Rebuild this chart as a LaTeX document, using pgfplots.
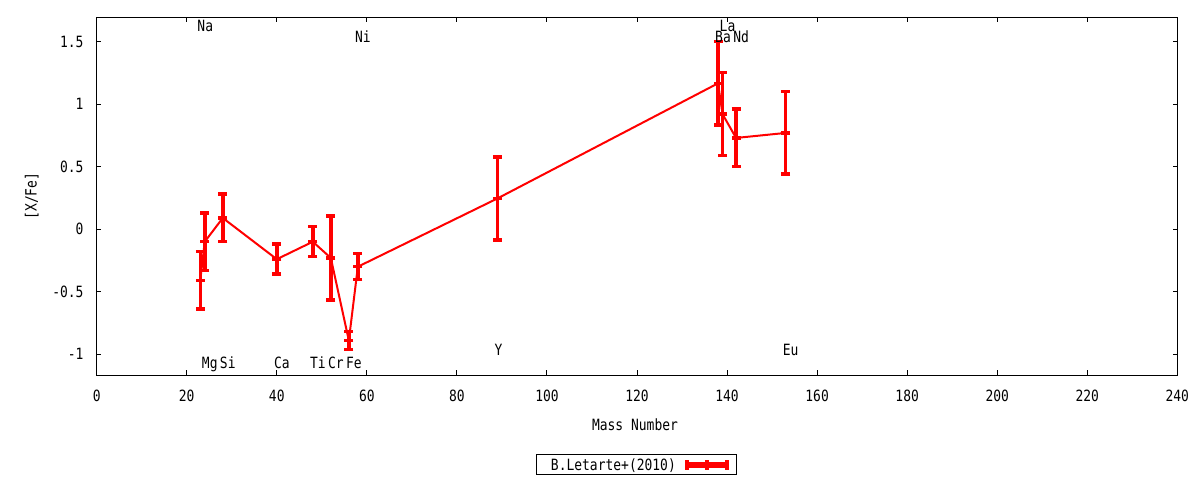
\documentclass[border=0pt]{standalone}
\usepackage{fontspec}
\setmainfont{DejaVu Sans Mono}[FakeStretch=0.836]
\usepackage{pgfplots}
\pgfplotsset{compat=1.18}
\usepackage{pgfplotstable}
\pgfplotstableread{
m y e
23 -0.41 0.23
24 -0.10 0.23
28 0.09 0.19
40 -0.24 0.12
48 -0.10 0.12
52 -0.23 0.335
56 -0.89 0.073
58 -0.30 0.104
89 0.246 0.332
138 1.167 0.333
139 0.92 0.332
142 0.73 0.23
153 0.77 0.33
}\datatable
\begin{document}
\fontsize{15.5bp}{18bp}\selectfont
\begin{tikzpicture}
\path[use as bounding box] (0,0) rectangle (1200bp,480bp);
\begin{axis}[
  at={(96.7bp,105bp)}, anchor=south west,
  scale only axis, width=1080.6bp, height=357.7bp,
  xmin=0, xmax=240, ymin=-1.166, ymax=1.695,
  clip=false,
  axis line style={line width=1bp, black},
  every tick/.style={line width=1bp, black},
  major tick length=4.5bp,
  xtick={0,20,40,60,80,100,120,140,160,180,200,220,240},
  xticklabels={0,20,40,60,80,100,120,140,160,180,200,220,240},
  ytick={-1,-0.5,0,0.5,1,1.5},
  yticklabels={-1,-0.5,0,0.5,1,1.5},
  xticklabel style={anchor=north, inner sep=0pt, yshift=-15bp},
  yticklabel style={anchor=east, inner sep=0pt, xshift=-13bp},
  xlabel={Mass Number},
  ylabel={[X/Fe]},
  xlabel style={at={(axis description cs:0.5,0)}, anchor=base, inner sep=0pt, yshift=-55bp, xshift=-2bp},
  ylabel style={at={(axis description cs:0,0.5)}, anchor=center, inner sep=0pt, rotate=0, yshift=65bp},
  legend plot pos=right,
  legend style={at={(0.4994,-0.2516)}, anchor=center, draw=black, line width=1bp,
    fill=white, inner sep=0pt, column sep=0pt,
    nodes={inner sep=0pt, text height=15bp, text depth=5bp}},
]
\addplot[red, line width=2bp, mark=-, mark size=4.5bp, mark options={line width=3.5bp, solid},
  legend image code/.code={
    \path[draw=none] (0bp,0bp) -- (60.6bp,0bp);
    \draw[red, line width=5bp] (11.3bp,0bp) -- (51.3bp,0bp);
    \draw[red, line width=4bp] (11.3bp,-4.5bp) -- (11.3bp,4.5bp)
       (31.3bp,-4.5bp) -- (31.3bp,4.5bp) (51.3bp,-4.5bp) -- (51.3bp,4.5bp);
  },
  error bars/.cd, y dir=both, y explicit,
  error bar style={line width=3.5bp, red},
  error mark options={rotate=90, line width=3.5bp, mark size=4.5bp, red}]
  table[x=m, y=y, y error=e] {\datatable};
\addlegendentry{\hspace*{14.7bp}B.Letarte+(2010)}
\node[anchor=base west, inner sep=0pt, xshift=-3bp] at (axis cs:23,1.58) {Na};
\node[anchor=base west, inner sep=0pt, xshift=-3bp] at (axis cs:139,1.58) {La};
\node[anchor=base west, inner sep=0pt, xshift=-3bp] at (axis cs:58,1.495) {Ni};
\node[anchor=base west, inner sep=0pt, xshift=-3bp] at (axis cs:138,1.495) {Ba};
\node[anchor=base west, inner sep=0pt, xshift=-3bp] at (axis cs:142,1.495) {Nd};
\node[anchor=base west, inner sep=0pt, xshift=-3bp] at (axis cs:89,-1.014) {Y};
\node[anchor=base west, inner sep=0pt, xshift=-3bp] at (axis cs:153,-1.014) {Eu};
\node[anchor=base west, inner sep=0pt, xshift=-3bp] at (axis cs:24,-1.118) {Mg};
\node[anchor=base west, inner sep=0pt, xshift=-3bp] at (axis cs:28,-1.118) {Si};
\node[anchor=base west, inner sep=0pt, xshift=-3bp] at (axis cs:40,-1.118) {Ca};
\node[anchor=base west, inner sep=0pt, xshift=-3bp] at (axis cs:48,-1.118) {Ti};
\node[anchor=base west, inner sep=0pt, xshift=-3bp] at (axis cs:52,-1.118) {Cr};
\node[anchor=base west, inner sep=0pt, xshift=-3bp] at (axis cs:56,-1.118) {Fe};
\end{axis}
\end{tikzpicture}
\end{document}
